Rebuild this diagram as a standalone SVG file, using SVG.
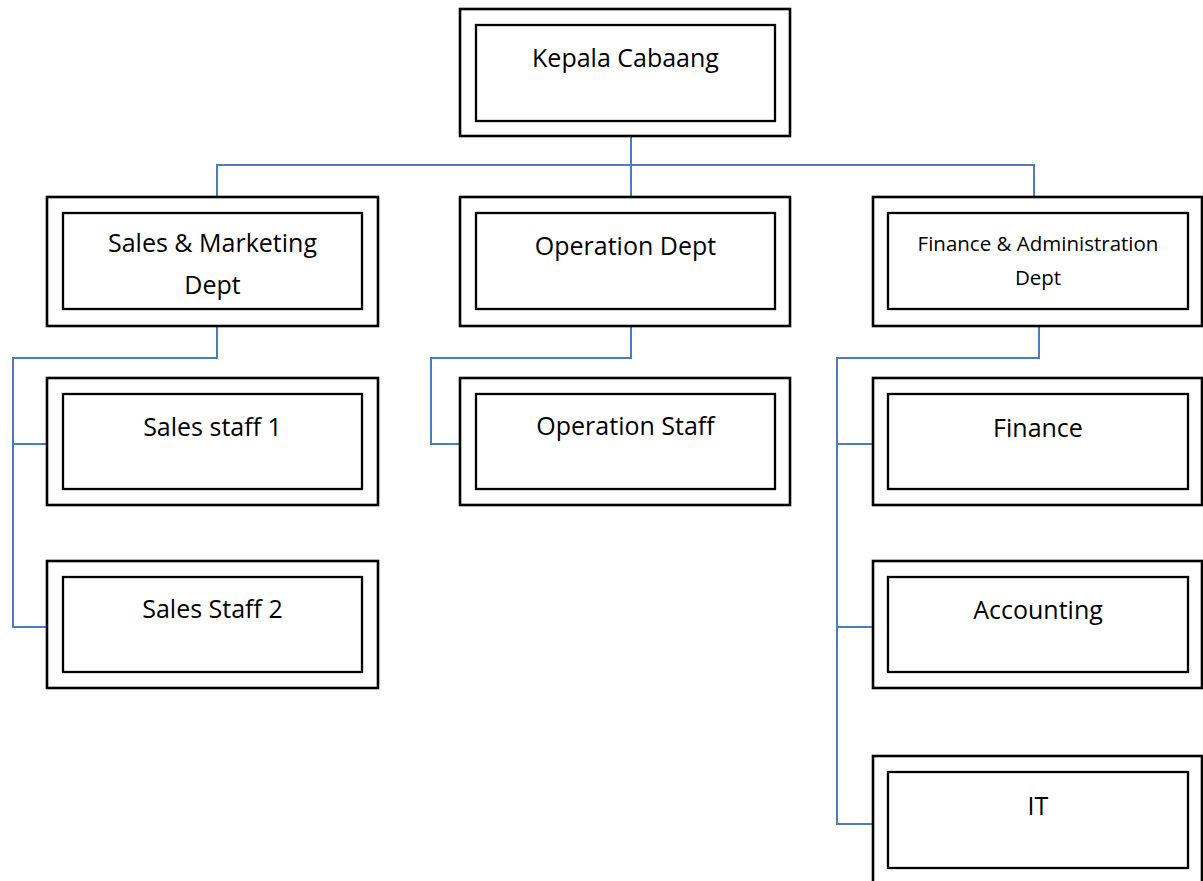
<svg xmlns="http://www.w3.org/2000/svg" width="1203" height="881" viewBox="0 0 1203 881">
<style>
.o{fill:#fff;stroke:#000;stroke-width:2.6}
.i{fill:#fff;stroke:#000;stroke-width:2.3}
.t{font-family:"Open Sans","Noto Sans",sans-serif;font-size:25px;fill:#000;text-anchor:middle}
.s{font-size:20.5px}
.c{fill:none;stroke:#4A7EBB;stroke-width:2}
</style>
<rect width="1203" height="881" fill="#fff"/>
<g id="connectors">
<path class="c" d="M631,136V197M217,197V165H1034V197"/>
<path class="c" d="M217,326V358H13V627H47M13,444H47"/>
<path class="c" d="M631,326V358H431V444H460"/>
<path class="c" d="M1039,326V358H837V824H873M837,444H873M837,627H873"/>
</g>
<g id="kepala">
<rect class="o" x="460" y="9" width="330" height="127"/>
<rect class="i" x="476" y="25" width="299" height="96"/>
<text class="t" x="625.5" y="67">Kepala Cabaang</text>
</g>
<g id="sales-marketing">
<rect class="o" x="47" y="197" width="331" height="129"/>
<rect class="i" x="63" y="213" width="299" height="96"/>
<text class="t" x="212.5" y="252">Sales &amp; Marketing</text>
<text class="t" x="212.5" y="294">Dept</text>
</g>
<g id="operation-dept">
<rect class="o" x="460" y="197" width="330" height="129"/>
<rect class="i" x="476" y="213" width="299" height="96"/>
<text class="t" x="625.5" y="255">Operation Dept</text>
</g>
<g id="finance-admin">
<rect class="o" x="873" y="197" width="329" height="129"/>
<rect class="i" x="888" y="213" width="300" height="96"/>
<text class="t s" x="1038" y="251">Finance &amp; Administration</text>
<text class="t s" x="1038" y="285">Dept</text>
</g>
<g id="sales-staff-1">
<rect class="o" x="47" y="378" width="331" height="127"/>
<rect class="i" x="63" y="394" width="299" height="95"/>
<text class="t" x="212.5" y="436">Sales staff 1</text>
</g>
<g id="sales-staff-2">
<rect class="o" x="47" y="561" width="331" height="127"/>
<rect class="i" x="63" y="577" width="299" height="95"/>
<text class="t" x="212.5" y="618">Sales Staff 2</text>
</g>
<g id="operation-staff">
<rect class="o" x="460" y="378" width="330" height="127"/>
<rect class="i" x="476" y="394" width="299" height="95"/>
<text class="t" x="625.5" y="435">Operation Staff</text>
</g>
<g id="finance">
<rect class="o" x="873" y="378" width="329" height="127"/>
<rect class="i" x="888" y="394" width="300" height="95"/>
<text class="t" x="1038" y="437">Finance</text>
</g>
<g id="accounting">
<rect class="o" x="873" y="561" width="329" height="127"/>
<rect class="i" x="888" y="577" width="300" height="95"/>
<text class="t" x="1038" y="619">Accounting</text>
</g>
<g id="it">
<rect class="o" x="873" y="756" width="329" height="127"/>
<rect class="i" x="888" y="772" width="300" height="96"/>
<text class="t" x="1038" y="815">IT</text>
</g>
</svg>
